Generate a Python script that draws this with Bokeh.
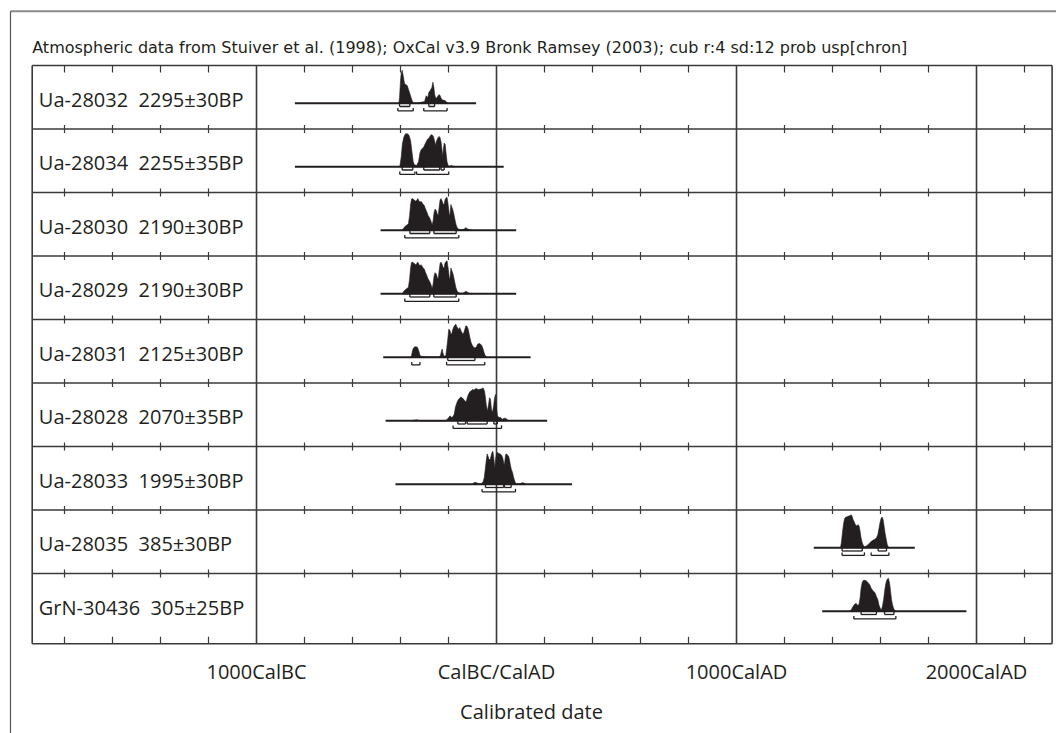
from bokeh.plotting import figure
from bokeh.models import Range1d
from bokeh.embed import file_html
from bokeh.resources import INLINE
from bokeh.core.properties import value

# ---------------- data ----------------
header = "Atmospheric data from Stuiver et al. (1998); OxCal v3.9 Bronk Ramsey (2003); cub r:4 sd:12 prob usp[chron]"
sample_ids = ["Ua-28032", "Ua-28034", "Ua-28030", "Ua-28029", "Ua-28031",
              "Ua-28028", "Ua-28033", "Ua-28035", "GrN-30436"]
bp_dates = ["2295±30BP", "2255±35BP", "2190±30BP", "2190±30BP", "2125±30BP",
            "2070±35BP", "1995±30BP", "385±30BP", "305±25BP"]
tick_values = [-1000, 0, 1000, 2000]
tick_labels = ["1000CalBC", "CalBC/CalAD", "1000CalAD", "2000CalAD"]
minor_ticks = [-1800, -1600, -1400, -1200, -800, -600, -400, -200,
               200, 400, 600, 800, 1200, 1400, 1600, 1800, 2200]
x_title = "Calibrated date"

# extent of the calibration line drawn under each distribution (cal years, BC negative)
curve_start = [-840, -840, -483, -483, -472, -462, -421, 1322, 1357]
curve_end = [-85, 30, 82, 82, 142, 211, 315, 1743, 1958]

# probability distributions (relative to each maximum)
d1_year = [-407, -404, -400, -397, -393, -389, -383, -378, -372, -365, -358, -356, -351, -347,
           -337, -319, -310, -300, -293, -286, -282, -275, -269, -265, -261, -258, -254, -250,
           -246, -242, -237, -233, -229, -224, -219, -215, -211, -206, -201]
d1_prob = [0, 0.175, 0.69, 0.92, 1.0, 0.845, 0.588, 0.567, 0.536, 0.381, 0.227, 0.175, 0.072, 0.01,
           0, 0.02, 0.04, 0.05, 0.227, 0.175, 0.33, 0.40, 0.485, 0.64, 0.485, 0.278, 0.175, 0.155,
           0.196, 0.247, 0.258, 0.196, 0.124, 0.103, 0.093, 0.082, 0.062, 0.02, 0]

d2_year = [-403, -397, -392, -386, -379, -372, -365, -358, -353, -347, -342, -333, -325, -319,
           -314, -308, -303, -297, -293, -287, -282, -276, -272, -267, -262, -258, -254, -250,
           -244, -239, -235, -231, -226, -224, -221, -218, -214, -210, -206, -201, -196, -189,
           -181, -175]
d2_prob = [0, 0.3, 0.7, 0.9, 1.0, 1.0, 0.96, 0.8, 0.5, 0.15, 0.06, 0.04, 0.15, 0.42,
           0.52, 0.56, 0.6, 0.7, 0.76, 0.84, 0.86, 0.94, 0.97, 0.96, 0.9, 0.78, 0.65, 0.78,
           0.88, 0.92, 0.88, 0.75, 0.45, 0.3, 0.55, 0.72, 0.68, 0.4, 0.15, 0.03, 0.02, 0.04,
           0.02, 0]

d3_year = [-393, -386, -379, -372, -367, -362, -358, -354, -350, -346, -342, -337, -333, -328,
           -324, -319, -315, -311, -307, -301, -296, -290, -285, -279, -274, -268, -264, -260,
           -256, -251, -247, -243, -239, -235, -231, -226, -222, -218, -214, -210, -206, -201,
           -197, -194, -190, -186, -182, -178, -174, -169, -164, -157, -147, -136, -128, -122,
           -114, -101]
d3_prob = [0, 0.08, 0.13, 0.17, 0.2, 0.45, 0.78, 0.95, 0.96, 0.93, 0.92, 0.88, 0.9, 0.96,
           0.9, 0.85, 0.88, 0.85, 0.8, 0.75, 0.65, 0.55, 0.45, 0.38, 0.3, 0.16, 0.3, 0.55,
           0.64, 0.6, 0.5, 0.45, 0.7, 0.92, 0.96, 0.88, 0.78, 0.8, 0.94, 0.98, 1.0, 0.75,
           0.5, 0.45, 0.78, 0.7, 0.62, 0.5, 0.35, 0.18, 0.08, 0.03, 0.02, 0.03, 0.08, 0.05,
           0.02, 0]

d5_year = [-358, -354, -350, -346, -340, -335, -329, -324, -319, -314, -303, -289, -240, -233,
           -229, -226, -224, -219, -211, -207, -203, -199, -194, -190, -186, -182, -178, -174,
           -169, -165, -161, -157, -153, -149, -144, -140, -136, -132, -128, -124, -119, -115,
           -111, -106, -100, -94, -89, -83, -78, -72, -67, -61, -56, -50, -44, -39]
d5_prob = [0, 0.05, 0.2, 0.28, 0.32, 0.32, 0.3, 0.2, 0.06, 0.03, 0.02, 0.01, 0.01, 0.06,
           0.2, 0.25, 0.15, 0.03, 0.05, 0.3, 0.55, 0.85, 0.82, 0.7, 0.72, 0.85, 0.92, 0.97,
           1.0, 0.92, 0.88, 0.85, 0.9, 0.82, 0.75, 0.7, 0.75, 0.85, 0.95, 0.95, 0.88, 0.75,
           0.6, 0.45, 0.35, 0.3, 0.28, 0.33, 0.4, 0.42, 0.4, 0.35, 0.25, 0.1, 0.02, 0]

d6_year = [-352, -344, -331, -319, -212, -206, -199, -193, -187, -182, -176, -171, -165, -160,
           -154, -149, -143, -137, -132, -126, -122, -117, -111, -106, -100, -94, -89, -83,
           -78, -72, -67, -61, -56, -50, -46, -42, -37, -33, -29, -25, -21, -17, -12, -8, -4,
           0, 4, 10, 17, 24, 31, 38, 44, 51]
d6_prob = [0, 0.02, 0.03, 0, 0, 0.04, 0.1, 0.15, 0.1, 0.12, 0.2, 0.42, 0.55, 0.63,
           0.68, 0.72, 0.7, 0.65, 0.6, 0.58, 0.7, 0.8, 0.88, 0.9, 0.95, 0.93, 0.96, 0.98,
           0.95, 0.95, 0.96, 0.97, 1.0, 0.9, 0.7, 0.45, 0.3, 0.5, 0.7, 0.65, 0.35, 0.25, 0.45,
           0.7, 0.8, 0.35, 0.15, 0.1, 0.1, 0.05, 0.07, 0.08, 0.04, 0]

d7_year = [-101, -94, -88, -81, -72, -63, -56, -51, -47, -43, -39, -35, -31, -26, -22, -18,
           -15, -11, -7, -3, 1, 5, 10, 14, 18, 22, 26, 31, 33, 38, 42, 46, 50, 54, 58, 62, 67,
           71, 75, 79, 86, 100, 107, 114, 121]
d7_prob = [0, 0.05, 0.06, 0.04, 0.01, 0.02, 0.08, 0.2, 0.45, 0.7, 0.92, 0.85, 0.75, 0.75, 0.88,
           0.98, 1.0, 0.78, 0.5, 0.8, 0.95, 0.97, 0.92, 0.93, 0.9, 0.87, 0.8, 0.62, 0.6, 0.9,
           0.92, 0.88, 0.86, 0.75, 0.58, 0.45, 0.35, 0.22, 0.12, 0.04, 0.01, 0.02, 0.05, 0.04, 0]

d8_year = [1433, 1437, 1442, 1446, 1450, 1456, 1461, 1467, 1472, 1478, 1482, 1486, 1490, 1494,
           1499, 1503, 1507, 1511, 1515, 1519, 1524, 1529, 1535, 1542, 1549, 1556, 1562, 1569,
           1576, 1583, 1589, 1594, 1599, 1603, 1607, 1611, 1615, 1619, 1624, 1628, 1632, 1637]
d8_prob = [0, 0.15, 0.5, 0.72, 0.88, 0.93, 0.94, 0.96, 0.97, 1.0, 0.95, 0.85, 0.8, 0.72,
           0.66, 0.68, 0.7, 0.65, 0.5, 0.3, 0.15, 0.06, 0.03, 0.06, 0.1, 0.15, 0.2, 0.23,
           0.26, 0.3, 0.4, 0.6, 0.8, 0.9, 0.93, 0.85, 0.65, 0.45, 0.25, 0.1, 0.03, 0]

d9_year = [1472, 1479, 1486, 1493, 1499, 1504, 1510, 1515, 1519, 1524, 1528, 1533, 1539, 1544,
           1550, 1556, 1561, 1567, 1572, 1578, 1583, 1589, 1594, 1600, 1604, 1608, 1613, 1617,
           1621, 1625, 1629, 1633, 1638, 1642, 1646, 1650, 1654, 1658, 1664]
d9_prob = [0, 0.06, 0.15, 0.22, 0.24, 0.18, 0.2, 0.4, 0.7, 0.88, 0.93, 0.94, 0.93, 0.9,
           0.85, 0.79, 0.7, 0.64, 0.6, 0.55, 0.45, 0.35, 0.18, 0.07, 0.05, 0.15, 0.35, 0.6,
           0.8, 0.92, 0.98, 1.0, 0.85, 0.6, 0.35, 0.2, 0.1, 0.04, 0]

dist_years = [d1_year, d2_year, d3_year, d3_year, d5_year, d6_year, d7_year, d8_year, d9_year]
dist_probs = [d1_prob, d2_prob, d3_prob, d3_prob, d5_prob, d6_prob, d7_prob, d8_prob, d9_prob]

# 68.2% and 95.4% ranges (cal years)
range68 = [[(-404, -361), (-282, -258)],
           [(-393, -349), (-303, -237), (-231, -218)],
           [(-361, -278), (-261, -168)],
           [(-361, -278), (-261, -168)],
           [(-203, -90)],
           [(-161, -129), (-122, -39), (-11, 3)],
           [(-46, 30), (33, 61)],
           [(1440, 1524), (1590, 1625)],
           [(1519, 1583), (1617, 1656)]]
range95 = [[(-411, -347), (-303, -206)],
           [(-403, -340), (-333, -199)],
           [(-382, -157)],
           [(-382, -157)],
           [(-353, -319), (-208, -49)],
           [(-181, 21)],
           [(-60, 79)],
           [(1440, 1533), (1561, 1635)],
           [(1489, 1664)]]

# ---------------- layout constants ----------------
INK = "#231f20"
LINE = "#3a3a3a"
ROW = 63.5                  # px per row
X_LEFT, X_RIGHT = -1934.6, 2315.0
X_OUT = -2025.0
Y_BOTTOM = 578.3 / ROW
BASE = 37.8 / ROW
R68 = 41.0 / ROW
R95 = 45.4 / ROW
PEAK = 33.0 / ROW
BTICK = 3.0 / ROW
n = len(sample_ids)

p = figure(width=1056, height=733, output_backend="svg", toolbar_location=None,
           x_range=Range1d(-2066.67, 2333.33), y_range=Range1d(10.5197, -1.0236),
           x_axis_location=None, y_axis_location=None, min_border=0)
p.grid.visible = False
p.outline_line_color = None
p.background_fill_color = "white"
p.border_fill_color = "white"

# outer frame (top and left)
p.segment(x0=[X_OUT, X_OUT], y0=[-0.855, -0.855], x1=[2340, X_OUT], y1=[-0.855, 10.6],
          line_color=["#8a8a8a", "#555555"], line_width=[2, 1.2])

# header
p.text(x=[X_LEFT], y=[-0.288], text=[header], text_font=value("DejaVu Sans"),
       text_font_size="16px", text_color=INK, text_baseline="alphabetic", text_align="left")

# row lines and frame
hy = list(range(n)) + [Y_BOTTOM]
p.segment(x0=[X_LEFT] * len(hy), y0=hy, x1=[X_RIGHT] * len(hy), y1=hy,
          line_color=LINE, line_width=1.6)
vx = [X_LEFT] + tick_values + [X_RIGHT]
p.segment(x0=vx, y0=[0] * len(vx), x1=vx, y1=[Y_BOTTOM] * len(vx),
          line_color=LINE, line_width=1.6)

# minor ticks on every row line
tx0, ty0, ty1 = [], [], []
for t in minor_ticks:
    tx0.append(t); ty0.append(0); ty1.append(7 / ROW)
    for i in range(1, n):
        tx0.append(t); ty0.append(i - 4 / ROW); ty1.append(i + 4 / ROW)
    tx0.append(t); ty0.append(Y_BOTTOM - 7 / ROW); ty1.append(Y_BOTTOM)
p.segment(x0=tx0, y0=ty0, x1=tx0, y1=ty1, line_color=LINE, line_width=1.2)

# labels
labels = [f"{a}\u00a0 {b}" for a, b in zip(sample_ids, bp_dates)]
p.text(x=[-1907] * n, y=[i + 34 / ROW for i in range(n)], text=labels,
       text_font=value("Open Sans"), text_font_size="20px", text_color=INK,
       text_baseline="alphabetic", text_align="left")

# calibration lines
p.segment(x0=curve_start, y0=[i + BASE for i in range(n)], x1=curve_end,
          y1=[i + BASE for i in range(n)], line_color=INK, line_width=2)

# distributions
xs, ys = [], []
for i, (yr, pr) in enumerate(zip(dist_years, dist_probs)):
    xs.append(list(yr))
    ys.append([i + BASE - q * PEAK for q in pr])
p.patches(xs, ys, fill_color=INK, line_color=INK, line_width=0.6)

# range brackets
bx0, by0, bx1, by1 = [], [], [], []
for i in range(n):
    for rng, off in ((range68[i], R68), (range95[i], R95)):
        yb = i + off
        for a, b in rng:
            bx0 += [a, a, b]; bx1 += [b, a, b]
            by0 += [yb, yb - BTICK, yb - BTICK]; by1 += [yb, yb, yb]
p.segment(x0=bx0, y0=by0, x1=bx1, y1=by1, line_color=INK, line_width=1.3)

# x tick labels and title
p.text(x=tick_values, y=[9.55] * 4, text=tick_labels, text_font=value("Open Sans"),
       text_font_size="20px", text_color=INK, text_baseline="alphabetic", text_align="center")
p.text(x=[146], y=[10.17], text=[x_title], text_font=value("Open Sans"),
       text_font_size="20px", text_color=INK, text_baseline="alphabetic", text_align="center")

open("out.html", "w").write(file_html(p, INLINE))
